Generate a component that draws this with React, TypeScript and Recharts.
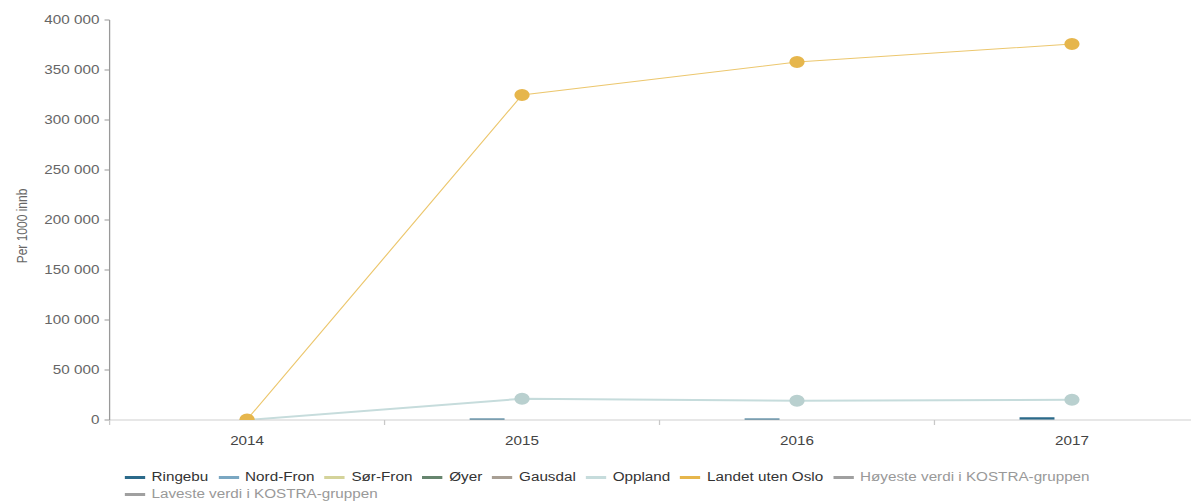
import React from "react";
import {
  Bar,
  CartesianGrid,
  ComposedChart,
  Line,
  XAxis,
  YAxis,
} from "recharts";

const years = ["2014", "2015", "2016", "2017"];
const ringebu = [null, 1500, 1500, 2700];
const nordFron = [null, null, null, null];
const sorFron = [null, null, null, null];
const oyer = [null, null, null, null];
const gausdal = [null, null, null, null];
const oppland = [0, 21300, 19300, 20300];
const landetUtenOslo = [500, 325000, 358000, 376000];
const hoyeste = [null, null, null, null];
const laveste = [null, null, null, null];
const yTicks = [0, 50000, 100000, 150000, 200000, 250000, 300000, 350000, 400000];

// the picture is stretched sideways, so the chart is drawn narrow and widened
const STRETCH = 1.27;

const data = years.map((year, i) => ({
  year,
  pos: i + 0.5,
  ringebu: ringebu[i],
  nordFron: nordFron[i],
  sorFron: sorFron[i],
  oyer: oyer[i],
  gausdal: gausdal[i],
  oppland: oppland[i],
  landet: landetUtenOslo[i],
  hoyeste: hoyeste[i],
  laveste: laveste[i],
}));

const legendRows = [
  [
    { name: "Ringebu", color: "#2b6a8a" },
    { name: "Nord-Fron", color: "#7aa7c2" },
    { name: "Sør-Fron", color: "#d4d39a" },
    { name: "Øyer", color: "#66856e" },
    { name: "Gausdal", color: "#a89f94" },
    { name: "Oppland", color: "#c6dcdc" },
    { name: "Landet uten Oslo", color: "#e6b64c" },
    { name: "Høyeste verdi i KOSTRA-gruppen", color: "#a0a0a0", muted: true },
  ],
  [{ name: "Laveste verdi i KOSTRA-gruppen", color: "#a0a0a0", muted: true }],
];

const formatThousands = (v: number) =>
  String(v).replace(/\B(?=(\d{3})+(?!\d))/g, " ");

const xTickPositions = [0, 0.5, 1, 1.5, 2, 2.5, 3, 3.5, 4];

const XTick = ({ x, y, payload }: any) => {
  const v = payload.value;
  if (Number.isInteger(v)) {
    return <line x1={x} x2={x} y1={y} y2={y + 5} stroke="#c8c8c8" />;
  }
  return (
    <text x={x} y={y + 25} textAnchor="middle" fill="#444" fontSize={12}>
      {years[Math.floor(v)]}
    </text>
  );
};

const YLabel = ({ viewBox }: any) => {
  const cx = viewBox.x + 11;
  const cy = viewBox.y + viewBox.height / 2 + 6;
  return (
    <text
      transform={`translate(${cx},${cy}) rotate(-90)`}
      textAnchor="middle"
      dominantBaseline="central"
      fontSize={12}
      fill="#666"
    >
      Per 1000 innb
    </text>
  );
};

const App = () => {
  return (
    <div style={{ width: 1191, height: 496, overflow: "hidden" }}>
      <div
        style={{
          position: "relative",
          width: 956,
          height: 496,
          transform: `scaleX(${STRETCH})`,
          transformOrigin: "0 0",
          fontFamily: "'Liberation Sans', Arial, sans-serif",
        }}
      >
        <ComposedChart
          width={956}
          height={496}
          data={data}
          margin={{ top: 12, right: 10, left: 0, bottom: 54 }}
          barSize={27.5}
          barGap={0}
        >
          <CartesianGrid vertical={false} horizontal={false} />
          <XAxis
            dataKey="pos"
            type="number"
            domain={[0, 4]}
            ticks={xTickPositions}
            interval={0}
            height={30}
            tickSize={0}
            tickMargin={0}
            tickLine={false}
            axisLine={{ stroke: "#d0d0d0" }}
            tick={<XTick />}
          />
          <YAxis
            width={80}
            domain={[0, 400000]}
            ticks={yTicks}
            allowDataOverflow
            tickSize={4}
            tickMargin={4}
            tickFormatter={formatThousands}
            tick={{ fill: "#666", fontSize: 12 }}
            tickLine={{ stroke: "#999" }}
            axisLine={{ stroke: "#999" }}
            label={<YLabel />}
          />
          <Bar dataKey="ringebu" fill="#2b6a8a" isAnimationActive={false} />
          <Bar dataKey="nordFron" fill="#7aa7c2" isAnimationActive={false} />
          <Bar dataKey="sorFron" fill="#d4d39a" isAnimationActive={false} />
          <Line dataKey="oyer" stroke="#66856e" dot={false} isAnimationActive={false} />
          <Line dataKey="gausdal" stroke="#a89f94" dot={false} isAnimationActive={false} />
          <Line
            dataKey="oppland"
            stroke="#c6dcdc"
            strokeWidth={2}
            dot={{ r: 6, fill: "#b9d0cf", stroke: "none" }}
            activeDot={false}
            isAnimationActive={false}
          />
          <Line
            dataKey="landet"
            stroke="#ecc76e"
            strokeWidth={1}
            dot={{ r: 6, fill: "#e6b64c", stroke: "none" }}
            activeDot={false}
            isAnimationActive={false}
          />
          <Line dataKey="hoyeste" stroke="#a0a0a0" dot={false} isAnimationActive={false} />
          <Line dataKey="laveste" stroke="#a0a0a0" dot={false} isAnimationActive={false} />
        </ComposedChart>
        <div
          style={{
            position: "absolute",
            left: 92,
            top: 461,
            fontSize: 12,
            lineHeight: "17px",
          }}
        >
          {legendRows.map((row, r) => (
            <div key={r} style={{ display: "flex", gap: 8, whiteSpace: "nowrap" }}>
              {row.map((item) => (
                <div key={item.name} style={{ display: "flex", alignItems: "center" }}>
                  <span
                    style={{
                      display: "inline-block",
                      width: 16,
                      height: 3,
                      background: item.color,
                      marginRight: 5,
                    }}
                  />
                  <span style={{ color: item.muted ? "#999" : "#333" }}>{item.name}</span>
                </div>
              ))}
            </div>
          ))}
        </div>
      </div>
    </div>
  );
};

export default App;
